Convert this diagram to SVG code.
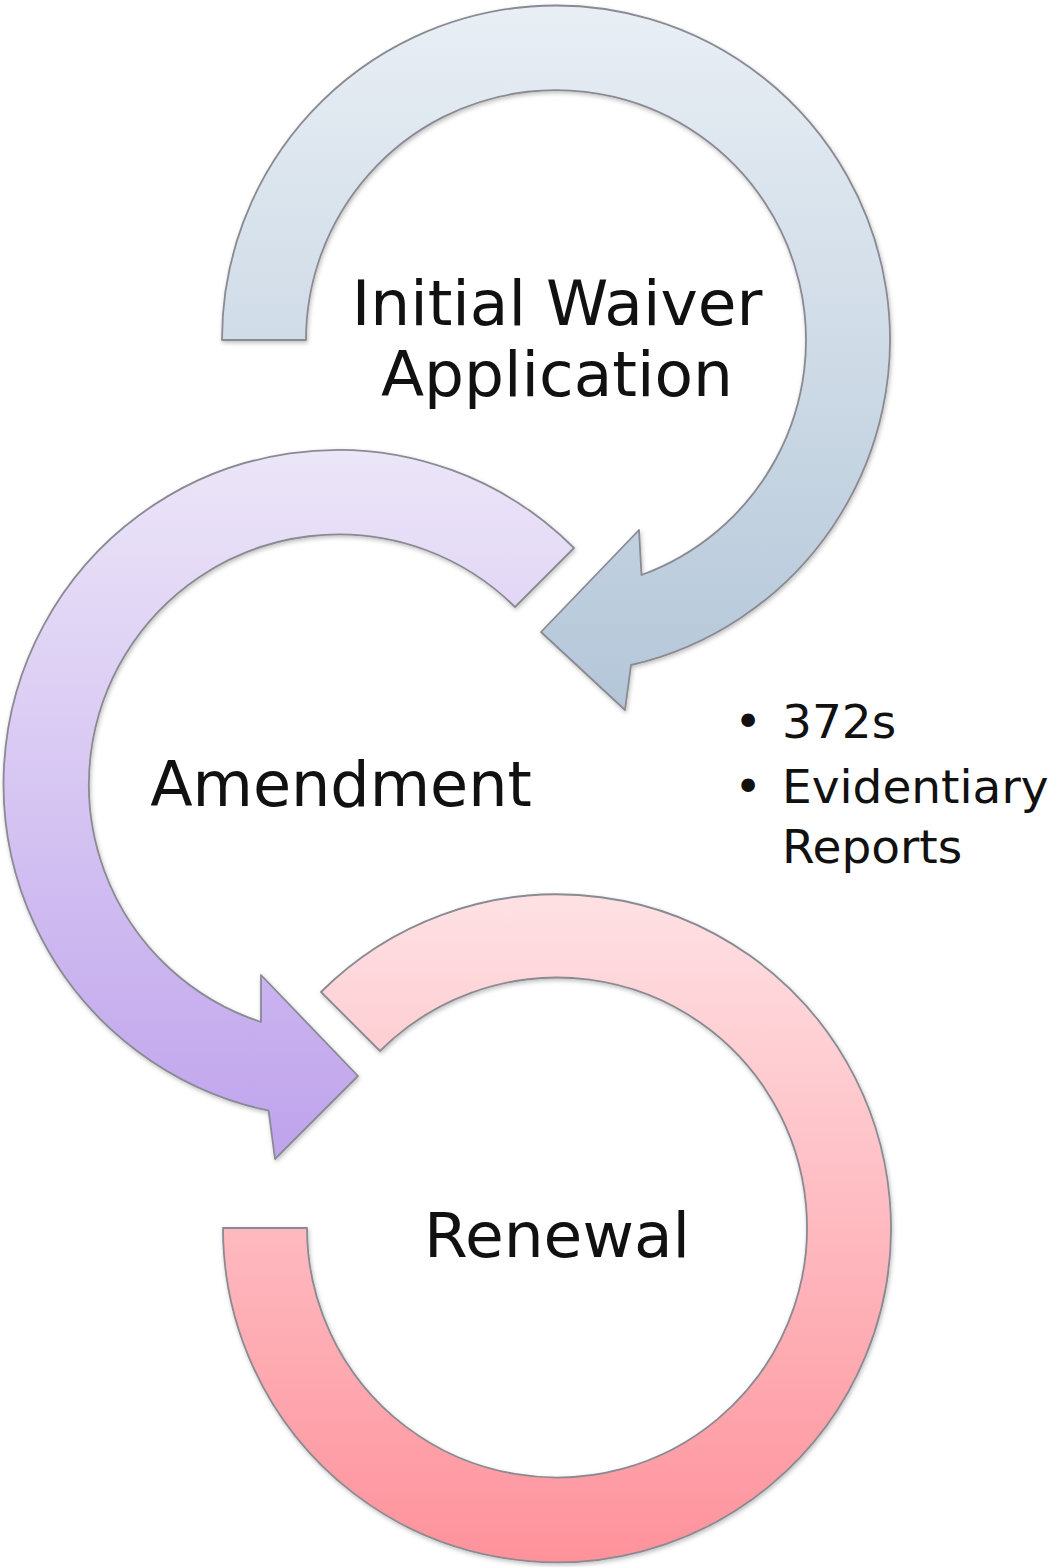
<svg xmlns="http://www.w3.org/2000/svg" width="1058" height="1567" viewBox="0 0 1058 1567">
  <defs>
    <linearGradient id="gBlue" gradientUnits="userSpaceOnUse" x1="0" y1="0" x2="0" y2="715">
      <stop offset="0" stop-color="#e9eff5"/>
      <stop offset="1" stop-color="#b3c6d8"/>
    </linearGradient>
    <linearGradient id="gPurple" gradientUnits="userSpaceOnUse" x1="0" y1="448" x2="0" y2="1165">
      <stop offset="0" stop-color="#ece6f8"/>
      <stop offset="1" stop-color="#bea2ec"/>
    </linearGradient>
    <linearGradient id="gPink" gradientUnits="userSpaceOnUse" x1="0" y1="893" x2="0" y2="1563">
      <stop offset="0" stop-color="#fee1e4"/>
      <stop offset="1" stop-color="#fe929b"/>
    </linearGradient>
    <filter id="shadow" x="-10%" y="-10%" width="120%" height="120%">
      <feDropShadow dx="1" dy="2" stdDeviation="2" flood-color="#000" flood-opacity="0.25"/>
    </filter>
  </defs>
  <style>
    .arrow { stroke: #8a8a92; stroke-width: 1.8; stroke-linejoin: round; filter: url(#shadow); }
    .label { font-family: "DejaVu Sans", "Liberation Sans", sans-serif; fill: #111; text-anchor: middle; }
    .big { font-size: 63px; }
    .bullet { font-family: "DejaVu Sans", "Liberation Sans", sans-serif; font-size: 47px; fill: #111; }
  </style>
  <rect width="1058" height="1567" fill="#ffffff"/>

  <g id="node-renewal">
    <path class="arrow" fill="url(#gPink)" d="M 321 992 A 334 334 0 1 1 223 1228 L 307 1228 A 250 250 0 1 0 380 1051 Z"/>
    <text class="label big" x="557" y="1257">Renewal</text>
  </g>

  <g id="node-amendment">
    <path class="arrow" fill="url(#gPurple)" d="M 574 548 A 334 334 0 1 0 268.6 1110.7 L 275 1159 L 358 1076 L 261 975 L 261 1022 A 250 250 0 1 1 515 607 Z"/>
    <text class="label" x="341" y="806" font-size="62">Amendment</text>
  </g>

  <g id="node-initial">
    <path class="arrow" fill="url(#gBlue)" d="M 222 340 A 334 334 0 1 1 631 665 L 625 710 L 541 632 L 639 530 L 641.5 575 A 250 250 0 1 0 306 340 Z"/>
    <text class="label big" x="557" y="325">Initial Waiver</text>
    <text class="label big" x="557" y="396">Application</text>
  </g>

  <g id="node-details">
    <text class="bullet" x="748" y="738" text-anchor="middle">•</text>
    <text class="bullet" x="782" y="738">372s</text>
    <text class="bullet" x="748" y="803" text-anchor="middle">•</text>
    <text class="bullet" x="782" y="803">Evidentiary</text>
    <text class="bullet" x="782" y="863">Reports</text>
  </g>

  <g id="connectors"/>
</svg>
